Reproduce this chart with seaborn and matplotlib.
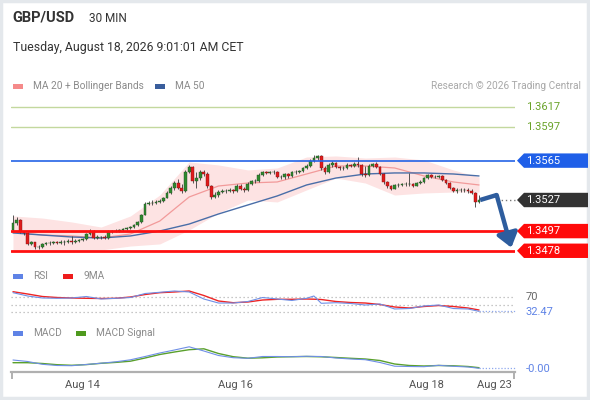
import numpy as np
import pandas as pd
import matplotlib
matplotlib.use("Agg")
import matplotlib.pyplot as plt
import seaborn as sns
from matplotlib.patches import Polygon, Rectangle

# ---------------- data ----------------
pair = "GBP/USD"
timeframe = "30 MIN"
timestamp = "Tuesday, August 18, 2026 9:01:01 AM CET"
credit = "Research \u00a9 2026 Trading Central"

first_open = 1.34981
close = [1.35048, 1.35077, 1.34961, 1.34952, 1.34846, 1.34865, 1.34817, 1.34817, 1.34846, 1.34855,
         1.34855, 1.34865, 1.34855, 1.34865, 1.34865, 1.34874, 1.34865, 1.34874, 1.34884, 1.34894,
         1.34942, 1.34971, 1.34903, 1.34913, 1.34913, 1.34903, 1.34961, 1.34971, 1.34971, 1.34981,
         1.34990, 1.35000, 1.35009, 1.35029, 1.35058, 1.35125, 1.35231, 1.35241, 1.35241, 1.35251,
         1.35260, 1.35289, 1.35338, 1.35386, 1.35434, 1.35386, 1.35357, 1.35540, 1.35589, 1.35453,
         1.35482, 1.35540, 1.35521, 1.35405, 1.35299, 1.35318, 1.35347, 1.35357, 1.35357, 1.35367,
         1.35357, 1.35405, 1.35376, 1.35367, 1.35424, 1.35453, 1.35453, 1.35511, 1.35540, 1.35531,
         1.35540, 1.35540, 1.35492, 1.35492, 1.35521, 1.35502, 1.35540, 1.35540, 1.35550, 1.35579,
         1.35598, 1.35646, 1.35675, 1.35695, 1.35579, 1.35540, 1.35608, 1.35627, 1.35589, 1.35579,
         1.35579, 1.35608, 1.35598, 1.35617, 1.35608, 1.35521, 1.35511, 1.35598, 1.35617, 1.35589,
         1.35521, 1.35444, 1.35405, 1.35376, 1.35415, 1.35415, 1.35424, 1.35424, 1.35424, 1.35405,
         1.35434, 1.35444, 1.35482, 1.35511, 1.35492, 1.35492, 1.35502, 1.35463, 1.35434, 1.35386,
         1.35357, 1.35367, 1.35367, 1.35367, 1.35357, 1.35338, 1.35251, 1.35270]
high = [1.35125, 1.35106, 1.35087, 1.34971, 1.34961, 1.34874, 1.34865, 1.34836, 1.34855, 1.34865,
        1.34874, 1.34874, 1.34874, 1.34884, 1.34884, 1.34894, 1.34923, 1.34894, 1.34894, 1.34903,
        1.34952, 1.34990, 1.34981, 1.34932, 1.34923, 1.34932, 1.34981, 1.34981, 1.34990, 1.34990,
        1.35000, 1.35009, 1.35019, 1.35038, 1.35067, 1.35135, 1.35251, 1.35260, 1.35270, 1.35270,
        1.35280, 1.35299, 1.35357, 1.35405, 1.35453, 1.35473, 1.35424, 1.35560, 1.35608, 1.35598,
        1.35540, 1.35560, 1.35560, 1.35540, 1.35415, 1.35347, 1.35367, 1.35376, 1.35376, 1.35386,
        1.35376, 1.35424, 1.35424, 1.35395, 1.35444, 1.35463, 1.35473, 1.35531, 1.35550, 1.35550,
        1.35550, 1.35560, 1.35550, 1.35511, 1.35531, 1.35531, 1.35550, 1.35560, 1.35560, 1.35589,
        1.35617, 1.35666, 1.35704, 1.35704, 1.35704, 1.35598, 1.35627, 1.35646, 1.35637, 1.35598,
        1.35598, 1.35627, 1.35617, 1.35637, 1.35685, 1.35617, 1.35598, 1.35617, 1.35627, 1.35637,
        1.35598, 1.35531, 1.35453, 1.35415, 1.35424, 1.35434, 1.35434, 1.35444, 1.35531, 1.35434,
        1.35444, 1.35463, 1.35492, 1.35521, 1.35521, 1.35511, 1.35511, 1.35511, 1.35473, 1.35444,
        1.35395, 1.35386, 1.35386, 1.35386, 1.35386, 1.35376, 1.35347, 1.35318]
low = [1.34971, 1.35029, 1.34952, 1.34932, 1.34836, 1.34836, 1.34797, 1.34797, 1.34807, 1.34836,
       1.34836, 1.34846, 1.34846, 1.34846, 1.34836, 1.34855, 1.34846, 1.34855, 1.34865, 1.34874,
       1.34884, 1.34932, 1.34894, 1.34894, 1.34894, 1.34894, 1.34894, 1.34952, 1.34961, 1.34961,
       1.34971, 1.34981, 1.34990, 1.35000, 1.35019, 1.35048, 1.35125, 1.35222, 1.35222, 1.35231,
       1.35241, 1.35251, 1.35289, 1.35328, 1.35367, 1.35376, 1.35338, 1.35347, 1.35531, 1.35434,
       1.35386, 1.35463, 1.35502, 1.35386, 1.35280, 1.35289, 1.35299, 1.35338, 1.35338, 1.35347,
       1.35338, 1.35347, 1.35367, 1.35347, 1.35357, 1.35415, 1.35434, 1.35444, 1.35502, 1.35521,
       1.35521, 1.35521, 1.35482, 1.35473, 1.35473, 1.35482, 1.35492, 1.35521, 1.35531, 1.35540,
       1.35569, 1.35589, 1.35637, 1.35656, 1.35560, 1.35521, 1.35531, 1.35589, 1.35579, 1.35560,
       1.35560, 1.35569, 1.35589, 1.35589, 1.35589, 1.35502, 1.35492, 1.35502, 1.35589, 1.35579,
       1.35511, 1.35424, 1.35386, 1.35367, 1.35376, 1.35395, 1.35405, 1.35405, 1.35405, 1.35395,
       1.35405, 1.35424, 1.35434, 1.35473, 1.35482, 1.35482, 1.35482, 1.35453, 1.35424, 1.35376,
       1.35347, 1.35338, 1.35347, 1.35347, 1.35338, 1.35328, 1.35202, 1.35241]

# moving averages / bands read at every 8th bar
band_idx = [0, 8, 16, 24, 32, 40, 48, 56, 64, 72, 80, 88, 96, 104, 112, 120, 127]
ma20 = [1.34961, 1.34932, 1.34923, 1.34903, 1.34942, 1.35067, 1.35299, 1.35405, 1.35434,
        1.35444, 1.35521, 1.35598, 1.35598, 1.35579, 1.35502, 1.35444, 1.35415]
ma50 = [1.34952, 1.34932, 1.34913, 1.34903, 1.34923, 1.34971, 1.35038, 1.35135, 1.35222,
        1.35309, 1.35415, 1.35482, 1.35521, 1.35531, 1.35531, 1.35521, 1.35502]
bb_upper = [1.35116, 1.35096, 1.35058, 1.35009, 1.35116, 1.35318, 1.35637, 1.35608, 1.35560,
            1.35579, 1.35685, 1.35695, 1.35675, 1.35685, 1.35656, 1.35560, 1.35492]
bb_lower = [1.34788, 1.34768, 1.34768, 1.34788, 1.34826, 1.34846, 1.34981, 1.35145, 1.35270,
            1.35251, 1.35367, 1.35482, 1.35434, 1.35318, 1.35338, 1.35347, 1.35347]

# RSI (14) and its 9-period MA
rsi_idx = [0, 4, 8, 12, 16, 20, 24, 28, 32, 36, 40, 44, 48, 52, 56, 60, 64, 68, 72, 76, 80, 82,
           84, 88, 92, 96, 100, 104, 108, 112, 116, 120, 124, 127]
rsi = [80.3, 71.8, 66.7, 65.9, 66.7, 70.5, 64.1, 65.9, 67.9, 78.2, 81.3, 84.6, 82.1, 64.1, 53.8,
       53.8, 57.7, 67.9, 64.1, 60.3, 65.9, 71.8, 53.1, 54.6, 52.6, 48.7, 51.3, 38.5, 39.7, 46.2,
       48.7, 39.7, 38.5, 32.47]
rsi_ma = [82.8, 76.9, 70.5, 67.9, 66.7, 65.9, 65.4, 65.9, 69.2, 75.6, 80.3, 82.1, 84.6, 73.1, 59.0,
          54.6, 56.4, 61.5, 63.3, 63.3, 64.1, 63.6, 62.8, 57.7, 55.1, 53.8, 50.0, 43.6, 41.0, 44.9,
          47.4, 44.9, 41.0, 35.9]
rsi_levels = [70, 50, 30]
rsi_label_levels = [70]

# MACD
macd_idx = [0, 4, 8, 12, 16, 20, 24, 28, 32, 36, 40, 44, 48, 52, 56, 60, 64, 68, 72, 76, 80, 84,
            88, 92, 96, 100, 104, 108, 112, 116, 120, 124, 127]
macd = [0.0006, 0.00045, 0.00017, 0.00005, 0.00003, 0.00015, 0.00028, 0.00042, 0.00062, 0.00095,
        0.0013, 0.0016, 0.00192, 0.0015, 0.00105, 0.00083, 0.00077, 0.00095, 0.00095, 0.00093,
        0.00097, 0.00095, 0.0008, 0.0007, 0.00063, 0.00035, -0.00002, -0.00005, -0.00007, 0.00007,
        -0.00003, -0.0001, -0.00023]
macd_signal = [0.00033, 0.00033, 0.00025, 0.00013, 0.00007, 0.00014, 0.00027, 0.00036, 0.00048,
               0.0008, 0.00115, 0.0014, 0.00163, 0.00172, 0.00125, 0.00093, 0.00078, 0.00082,
               0.0009, 0.00093, 0.00095, 0.00092, 0.00085, 0.00077, 0.0007, 0.00055, 0.0002,
               0.00005, 0.0, 0.00005, 0.00002, -0.00005, -0.00017]

# key levels
resistances = [1.3617, 1.3597]
pivot = 1.3565
supports = [1.3497, 1.3478]
last_price = 1.3527
# forecast arrow path (bar index, price)
arrow_x = [127.3, 131.8, 135.8]
arrow_y = [1.3527, 1.35318, 1.3481]

tick_pos = [18.8, 60.5, 112.8, 131.3]
tick_labels = ["Aug 14", "Aug 16", "Aug 18", "Aug 23"]

# ---------------- style ----------------
sns.set_theme(style="white")
plt.rcParams['font.family'] = ['Roboto', 'DejaVu Sans']

W, H = 590, 400
fig = plt.figure(figsize=(W / 100, H / 100), dpi=100)
fig.patch.set_facecolor("white")

def fax(x0, y0, x1, y1):
    return fig.add_axes([x0 / W, 1 - y1 / H, (x1 - x0) / W, (y1 - y0) / H])

XMIN, XMAX = -0.545, 136.8
ax = fax(11, 98, 515, 260)
ax_rsi = fax(11, 285, 515, 324)
ax_macd = fax(11, 340, 515, 372)
for a in (ax, ax_rsi, ax_macd):
    a.set_xlim(XMIN, XMAX)
    a.set_facecolor("none")
    for s in a.spines.values():
        s.set_visible(False)
    a.set_yticks([])
    a.set_xticks([])

ax.set_ylim(1.34691, 1.362543)
ax_rsi.set_ylim(0, 100)
ax_macd.set_ylim(-0.0006, 0.0026)

# ---------------- main price panel ----------------
n = len(close)
idx = np.arange(n)
opens = [first_open] + close[:-1]
bands = pd.DataFrame({"i": band_idx, "ma20": ma20, "ma50": ma50,
                      "up": bb_upper, "lo": bb_lower})
ax.fill_between(bands["i"], bands["lo"], bands["up"], color="#fde3e3", lw=0, zorder=1)
sns.lineplot(data=bands, x="i", y="ma20", ax=ax, color="#f29a9a", lw=0.9, zorder=3)
sns.lineplot(data=bands, x="i", y="ma50", ax=ax, color="#4a6ea8", lw=1.0, zorder=3)

o = np.array(opens); c = np.array(close)
up = c >= o
bottom = np.minimum(o, c)
height = np.maximum(np.abs(c - o), 0.00003)
ax.vlines(idx, low, high, color="#3a3a3a", lw=0.6, zorder=4)
ax.bar(idx[up], height[up], bottom=bottom[up], width=0.75, color="#2f8a2f",
       edgecolor="#244d24", linewidth=0.3, zorder=5)
ax.bar(idx[~up], height[~up], bottom=bottom[~up], width=0.75, color="#e01b1b",
       edgecolor="#7a1515", linewidth=0.3, zorder=5)

for r in resistances:
    ax.axhline(r, color="#c3d89e", lw=1.0, zorder=2)
ax.axhline(pivot, color="#2463e6", lw=1.2, zorder=6)
for s in supports:
    ax.axhline(s, color="#ff1010", lw=2.0, zorder=6)

ax.plot([131.9, XMAX], [last_price, last_price], color="#777777", lw=1,
        ls=(0, (1, 2)), zorder=6, clip_on=False)
ax.plot(arrow_x[:2], arrow_y[:2], color="#2e5d9e", lw=3.2, zorder=7,
        solid_capstyle="butt", solid_joinstyle="miter", clip_on=False)
ax.annotate("", xy=(arrow_x[2], arrow_y[2]), xytext=(arrow_x[1], arrow_y[1]),
            arrowprops=dict(arrowstyle="-|>,head_length=0.6,head_width=0.45", lw=3.2,
                            color="#2e5d9e", shrinkA=0, shrinkB=0, mutation_scale=14),
            zorder=7, annotation_clip=False)

# ---------------- RSI panel ----------------
rdf = pd.DataFrame({"i": rsi_idx, "rsi": rsi, "ma": rsi_ma})
for lv in rsi_levels:
    ax_rsi.axhline(lv, color="#b5b5b5", lw=0.9, ls=(0, (1, 2.2)), zorder=1)
sns.lineplot(data=rdf, x="i", y="ma", ax=ax_rsi, color="#ee2424", lw=1.0, zorder=3)
sns.lineplot(data=rdf, x="i", y="rsi", ax=ax_rsi, color="#6f8fe6", lw=0.8, zorder=4)
ax_rsi.plot([rsi_idx[-1], XMAX], [rsi[-1], rsi[-1]], color="#8fa8ee", lw=0.9,
            ls=(0, (1, 1.5)), zorder=2, clip_on=False)

# ---------------- MACD panel ----------------
mdf = pd.DataFrame({"i": macd_idx, "macd": macd, "sig": macd_signal})
sns.lineplot(data=mdf, x="i", y="sig", ax=ax_macd, color="#5aa02c", lw=1.0, zorder=3)
sns.lineplot(data=mdf, x="i", y="macd", ax=ax_macd, color="#6f8fe6", lw=0.8, zorder=4)
ax_macd.plot([macd_idx[-1], XMAX], [macd[-1], macd[-1]], color="#8fa8ee", lw=0.9,
             ls=(0, (1, 1.5)), zorder=2, clip_on=False)
ax_macd.spines["bottom"].set_visible(True)
ax_macd.spines["bottom"].set_color("#b0b0b0")
ax_macd.spines["bottom"].set_linewidth(1.6)
ax_macd.set_xticks(tick_pos)
ax_macd.set_xticklabels(tick_labels)
ax_macd.set_xticks([XMIN + 0.2, XMAX - 0.2], minor=True)
ax_macd.tick_params(axis="x", which="major", length=0, pad=6, labelsize=8, labelcolor="#555555")
ax_macd.tick_params(axis="x", which="minor", length=5, width=1.4, color="#b0b0b0", direction="out",
                    bottom=True)
for a in (ax, ax_rsi, ax_macd):
    a.set_xlabel("")
    a.set_ylabel("")

# ---------------- overlay: texts, legends, tags ----------------
ov = fig.add_axes([0, 0, 1, 1])
ov.set_xlim(0, W)
ov.set_ylim(H, 0)
ov.axis("off")

def ypix(a, v):
    return H - a.transData.transform((0, v))[1]

ov.add_patch(Rectangle((1, 1), W - 3, H - 3, fill=False, ec="#e4e8ec", lw=2.5))
ov.text(12, 18, pair, fontsize=10.5, fontweight="bold", color="#333333", va="center")
ov.text(89, 18, timeframe, fontsize=8.5, color="#333333", va="center")
ov.text(13, 48, timestamp, fontsize=8.8, color="#333333", va="center")
ov.text(581, 86, credit, fontsize=7.3, color="#a8a8a8", va="center", ha="right")

def legend_item(x, y, color, label):
    ov.add_patch(Rectangle((x, y - 2.5), 10, 5, fc=color, ec="none"))
    ov.text(x + 20, y, label, fontsize=7.3, color="#8a8a8a", va="center")

legend_item(13, 86, "#f58a8a", "MA 20 + Bollinger Bands")
legend_item(155, 86, "#3a5e9c", "MA 50")
legend_item(13, 276, "#5f83e6", "RSI")
legend_item(63, 276, "#ee1c1c", "9MA")
legend_item(13, 333, "#5f83e6", "MACD")
legend_item(76, 333, "#4f9a1e", "MACD Signal")

def tag(yc, text, fc, tc="white"):
    h = 7.2
    ov.add_patch(Polygon([(517, yc), (524, yc - h), (588, yc - h), (588, yc + h), (524, yc + h)],
                         closed=True, fc=fc, ec="none"))
    ov.text(526.5, yc + 0.3, text, fontsize=8, color=tc, va="center", ha="left")

for r in resistances:
    ov.text(526.5, ypix(ax, r), f"{r:.4f}", fontsize=8, color="#6aa32a", va="center")
tag(ypix(ax, pivot), f"{pivot:.4f}", "#1f5fe8")
tag(ypix(ax, last_price), f"{last_price:.4f}", "#333333")
for s in supports:
    tag(ypix(ax, s), f"{s:.4f}", "#ff0a0a")

for lv in rsi_label_levels:
    ov.text(526, ypix(ax_rsi, lv), f"{lv}", fontsize=8, color="#666666", va="center")
ov.text(526, ypix(ax_rsi, rsi[-1]) + 0.5, f"{rsi[-1]:.2f}", fontsize=8, color="#5f83e6",
        va="center")
ov.text(526, ypix(ax_macd, macd[-1]) + 0.5, f"{macd[-1]:.2f}", fontsize=8, color="#5f83e6",
        va="center")

fig.savefig("out.png", dpi=100, facecolor="white")
